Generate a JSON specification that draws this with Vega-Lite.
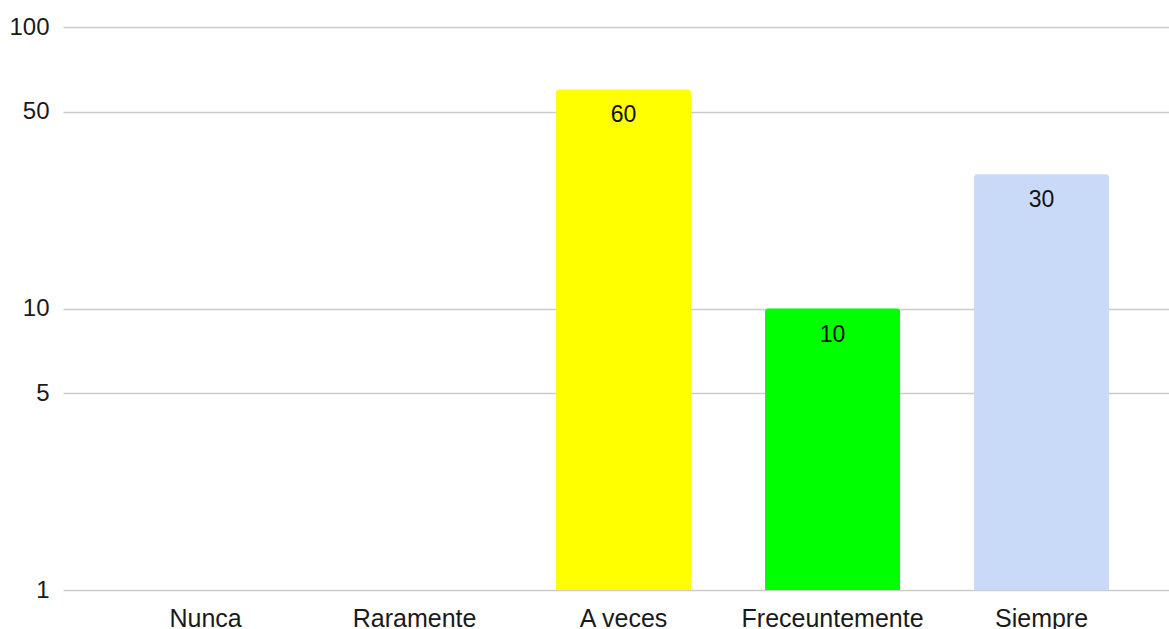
{
  "$schema": "https://vega.github.io/schema/vega-lite/v6.json",
  "autosize": "none",
  "width": 1106,
  "height": 563,
  "padding": {"left": 63, "top": 27, "right": 0, "bottom": 39},
  "background": "white",
  "config": {
    "view": {"stroke": null},
    "font": "Liberation Sans"
  },
  "data": {
    "values": [
      {"categoria": "Nunca", "valor": 0},
      {"categoria": "Raramente", "valor": 0},
      {"categoria": "A veces", "valor": 60},
      {"categoria": "Freceuntemente", "valor": 10},
      {"categoria": "Siempre", "valor": 30}
    ]
  },
  "transform": [{"filter": "datum.valor > 0"}],
  "encoding": {
    "x": {
      "field": "categoria",
      "type": "nominal",
      "sort": null,
      "scale": {
        "domain": ["Nunca", "Raramente", "A veces", "Freceuntemente", "Siempre"],
        "paddingInner": 0.354,
        "paddingOuter": 0.323,
        "align": 0.556
      },
      "axis": {
        "title": null,
        "labelAngle": 0,
        "domain": false,
        "ticks": false,
        "tickSize": 0,
        "labelFontSize": 25,
        "labelLimit": 400,
        "labelColor": "#1a1a1a",
        "labelBaseline": "alphabetic",
        "labelPadding": 36,
        "labelFont": "Liberation Sans"
      }
    },
    "y": {
      "field": "valor",
      "type": "quantitative",
      "scale": {"type": "log", "domain": [1, 100], "nice": false},
      "axis": {
        "title": null,
        "values": [1, 5, 10, 50, 100],
        "domain": false,
        "ticks": false,
        "tickSize": 0,
        "grid": true,
        "gridColor": "#cccccc",
        "gridWidth": 1.5,
        "labelFontSize": 24,
        "labelColor": "#1a1a1a",
        "labelPadding": 14,
        "labelFont": "Liberation Sans",
        "format": "d"
      }
    }
  },
  "layer": [
    {
      "mark": {"type": "bar", "cornerRadiusTopLeft": 3, "cornerRadiusTopRight": 3},
      "encoding": {
        "y2": {"datum": 1},
        "color": {
          "field": "categoria",
          "type": "nominal",
          "scale": {
            "domain": ["A veces", "Freceuntemente", "Siempre"],
            "range": ["#ffff00", "#00ff00", "#c9daf8"]
          },
          "legend": null
        }
      }
    },
    {
      "mark": {"type": "text", "baseline": "middle", "dy": 26, "fontSize": 23, "color": "#111111", "font": "Liberation Sans"},
      "encoding": {
        "text": {"field": "valor", "type": "quantitative"}
      }
    }
  ]
}
